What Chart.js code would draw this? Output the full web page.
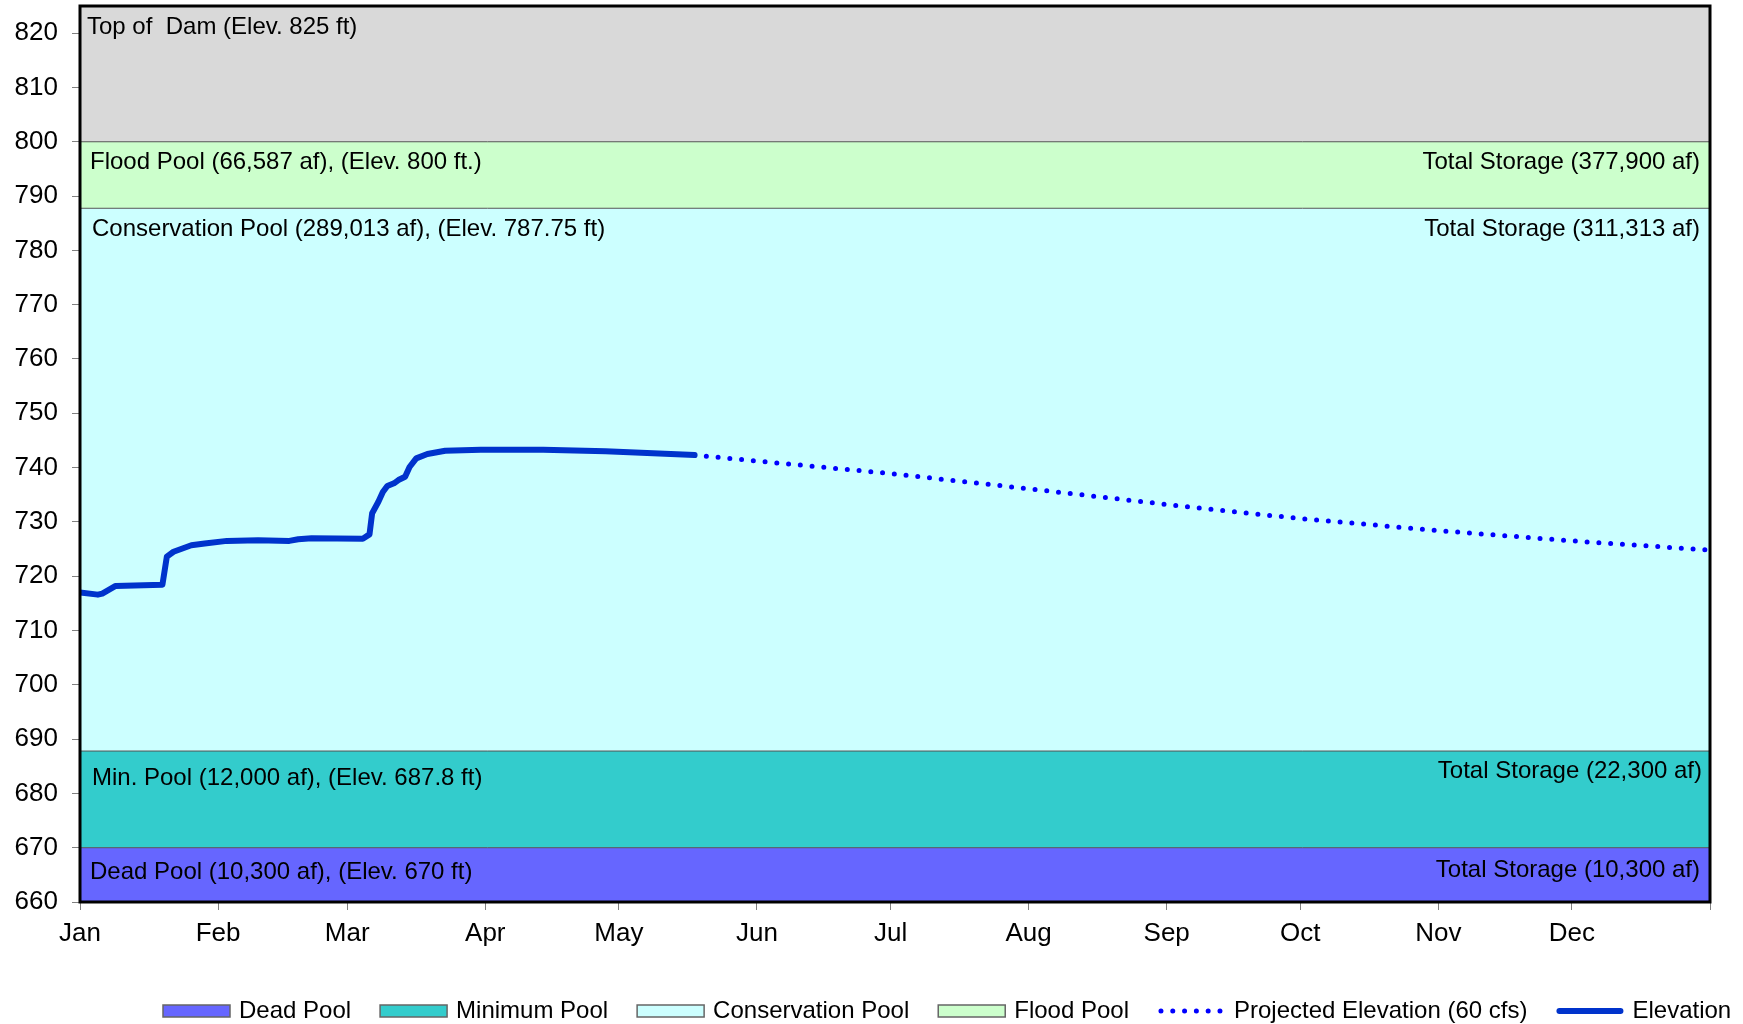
<!DOCTYPE html>
<html>
<head>
<meta charset="utf-8">
<script src="https://cdn.jsdelivr.net/npm/chart.js@4.4.0/dist/chart.umd.min.js"></script>
<style>
  html, body { margin: 0; padding: 0; background: #fff; }
  #wrap { width: 1743px; height: 1024px; }
</style>
</head>
<body>
<div id="wrap"><canvas id="chart" width="1743" height="1024"></canvas></div>
<script>
// x axis is day of year (leap year)
const monthLabels = ['Jan', 'Feb', 'Mar', 'Apr', 'May', 'Jun', 'Jul', 'Aug', 'Sep', 'Oct', 'Nov', 'Dec'];
const monthStarts = [0, 31, 60, 91, 121, 152, 182, 213, 244, 274, 305, 335, 366];

// pools, bottom to top
const bandNames = ['Dead Pool', 'Minimum Pool', 'Conservation Pool', 'Flood Pool', 'Top of Dam'];
const bandTops = [670, 687.8, 787.75, 800, 825];
const bandLeftText = [
    'Dead Pool (10,300 af), (Elev. 670 ft)',
    'Min. Pool (12,000 af), (Elev. 687.8 ft)',
    'Conservation Pool (289,013 af), (Elev. 787.75 ft)',
    'Flood Pool (66,587 af), (Elev. 800 ft.)',
    'Top of  Dam (Elev. 825 ft)'
];
const bandRightText = [
    'Total Storage (10,300 af)',
    'Total Storage (22,300 af)',
    'Total Storage (311,313 af)',
    'Total Storage (377,900 af)',
    ''
];

// observed elevation
const elevDays = [0, 4, 5, 8, 18.5, 19.5, 21, 23, 25, 28, 33, 40, 47, 49, 52, 63.5, 65, 65.6, 67, 68, 69, 70.5, 71.5, 73, 74, 75.5, 78, 82, 90, 104, 118, 138];
const elevValues = [717.0, 716.6, 716.8, 718.2, 718.4, 723.6, 724.5, 725.1, 725.7, 726.0, 726.5, 726.6, 726.5, 726.8, 727.0, 726.9, 727.7, 731.6, 733.7, 735.5, 736.6, 737.1, 737.7, 738.3, 740.1, 741.7, 742.5, 743.1, 743.3, 743.3, 743.0, 742.3];

// projected elevation (60 cfs)
const projDays = [138, 152, 182, 213, 244, 274, 305, 335, 366];
const projValues = [742.3, 741.2, 738.9, 736.1, 733.2, 730.6, 728.4, 726.5, 724.8];

const bandColors = ['#6666FF', '#33CCCC', '#CCFFFF', '#CCFFCC', '#D9D9D9'];
const FONT = '"Liberation Sans", Arial, sans-serif';

const toPoints = (xs, ys) => xs.map((x, i) => ({ x: x, y: ys[i] }));

const datasets = bandNames.map((name, i) => ({
    label: name,
    data: [{ x: 0, y: bandTops[i] }, { x: 366, y: bandTops[i] }],
    backgroundColor: bandColors[i],
    borderColor: '#555555',
    borderWidth: 1,
    pointRadius: 0,
    fill: i === 0 ? 'start' : '-1',
    order: 2,
    inLegend: i < 4
}));

datasets.push({
    label: 'Projected Elevation (60 cfs)',
    data: toPoints(projDays, projValues),
    borderColor: '#0000FF',
    borderWidth: 5,
    borderDash: [0, 11.8],
    borderCapStyle: 'round',
    pointRadius: 0,
    fill: false,
    order: 1,
    inLegend: true
});
datasets.push({
    label: 'Elevation',
    data: toPoints(elevDays, elevValues),
    borderColor: '#0033CC',
    borderWidth: 6,
    borderCapStyle: 'round',
    borderJoinStyle: 'round',
    pointRadius: 0,
    fill: false,
    order: 0,
    inLegend: true
});

// label offsets per band: [left x, left baseline, right inset, right baseline]
const labelPos = [[10, 31, 10, 29], [12, 34, 8, 27], [12, 28, 10, 28], [10, 27, 10, 27], [7, 28, 10, 28]];

const bandLabels = {
    id: 'bandLabels',
    afterDatasetsDraw(chart) {
        const { ctx, chartArea, scales } = chart;
        ctx.save();
        ctx.font = '24px ' + FONT;
        ctx.fillStyle = '#000';
        ctx.textBaseline = 'alphabetic';
        bandTops.forEach((top, i) => {
            const y = scales.y.getPixelForValue(top);
            const p = labelPos[i];
            ctx.textAlign = 'left';
            ctx.fillText(bandLeftText[i], chartArea.left + p[0], y + p[1]);
            ctx.textAlign = 'right';
            ctx.fillText(bandRightText[i], chartArea.right - p[2], y + p[3]);
        });
        // frame
        ctx.strokeStyle = '#000';
        ctx.lineWidth = 3;
        ctx.strokeRect(chartArea.left, chartArea.top, chartArea.right - chartArea.left, chartArea.bottom - chartArea.top);
        ctx.restore();
    }
};

const bottomLegend = {
    id: 'bottomLegend',
    afterDraw(chart) {
        const ctx = chart.ctx;
        const boxW = 67, cy = 1011;
        let x = 163;
        ctx.save();
        ctx.font = '24px ' + FONT;
        ctx.textBaseline = 'alphabetic';
        ctx.textAlign = 'left';
        chart.data.datasets.forEach(ds => {
            if (!ds.inLegend) return;
            if (ds.fill === false) {
                ctx.strokeStyle = ds.borderColor;
                ctx.lineWidth = ds.borderWidth;
                ctx.lineCap = 'round';
                ctx.setLineDash(ds.borderDash || []);
                ctx.beginPath();
                ctx.moveTo(x + 3, cy);
                ctx.lineTo(x + boxW - 3, cy);
                ctx.stroke();
                ctx.setLineDash([]);
            } else {
                ctx.fillStyle = ds.backgroundColor;
                ctx.fillRect(x, cy - 6, boxW, 12);
                ctx.strokeStyle = '#666666';
                ctx.lineWidth = 1.5;
                ctx.strokeRect(x, cy - 6, boxW, 12);
            }
            ctx.fillStyle = '#000';
            ctx.fillText(ds.label, x + boxW + 9, 1018);
            x += boxW + 9 + ctx.measureText(ds.label).width + 29;
        });
        ctx.restore();
    }
};

new Chart(document.getElementById('chart'), {
    type: 'line',
    data: { datasets: datasets },
    options: {
        responsive: false,
        animation: false,
        layout: { padding: { top: 6, right: 33, left: 0, bottom: 0 } },
        plugins: {
            legend: { display: false },
            tooltip: { enabled: false }
        },
        scales: {
            x: {
                type: 'linear',
                min: 0,
                max: 366,
                afterBuildTicks: scale => {
                    scale.ticks = monthStarts.map(v => ({ value: v }));
                },
                afterFit: scale => {
                    scale.height = 122;
                    scale.paddingLeft = 0;
                    scale.paddingRight = 0;
                },
                ticks: {
                    autoSkip: false,
                    maxRotation: 0,
                    padding: 8,
                    color: '#000',
                    font: { family: FONT, size: 26 },
                    callback: value => {
                        const i = monthStarts.indexOf(value);
                        return i >= 0 && i < 12 ? monthLabels[i] : '';
                    }
                },
                grid: { drawOnChartArea: false, tickLength: 8, color: '#808080' },
                border: { display: false }
            },
            y: {
                min: 660,
                max: 825,
                afterFit: scale => {
                    scale.width = 80;
                    scale.paddingTop = 0;
                    scale.paddingBottom = 0;
                },
                ticks: {
                    stepSize: 10,
                    includeBounds: false,
                    padding: 14,
                    color: '#000',
                    font: { family: FONT, size: 26 }
                },
                grid: { drawOnChartArea: false, tickLength: 8, color: '#808080' },
                border: { display: false }
            }
        }
    },
    plugins: [bandLabels, bottomLegend]
});
</script>
</body>
</html>
